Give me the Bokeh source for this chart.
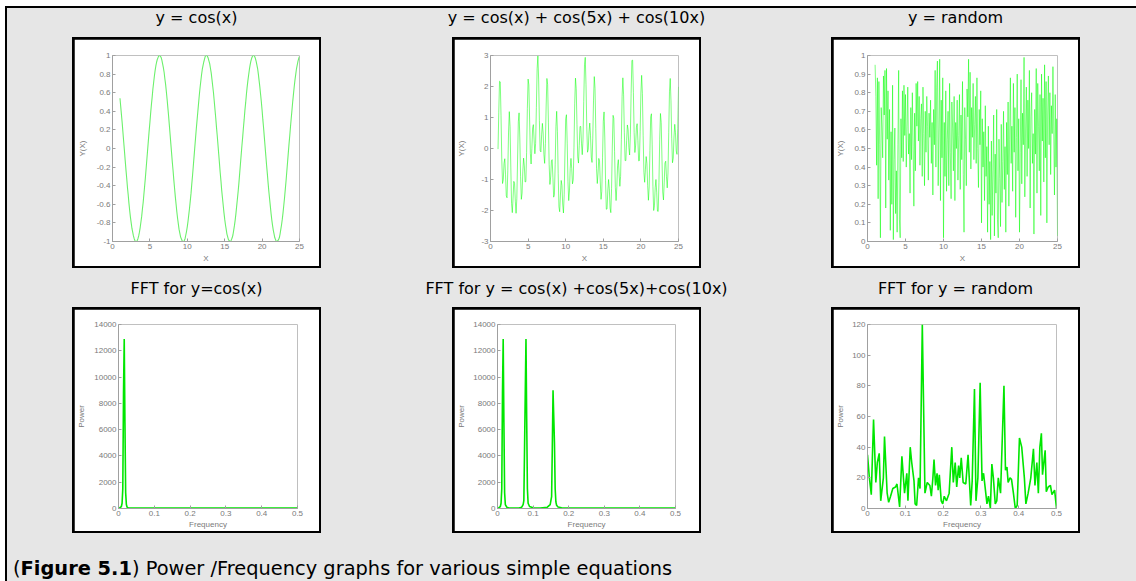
from bokeh.plotting import figure
from bokeh.models import Range1d, FixedTicker, Div, Spacer
from bokeh.layouts import row, column
from bokeh.embed import file_html
from bokeh.resources import INLINE

# ---------------- data ----------------
x_start = 1.0
x_step = 0.1

cos_y = [
    0.54, 0.45, 0.36, 0.27, 0.17, 0.07, -0.03, -0.13, -0.23, -0.32,
    -0.42, -0.50, -0.59, -0.67, -0.74, -0.80, -0.86, -0.90, -0.94, -0.97,
    -0.99, -1.00, -1.00, -0.99, -0.97, -0.94, -0.90, -0.85, -0.79, -0.73,
    -0.65, -0.58, -0.49, -0.40, -0.31, -0.21, -0.11, -0.01, 0.09, 0.19,
    0.28, 0.38, 0.47, 0.55, 0.64, 0.71, 0.78, 0.84, 0.89, 0.93,
    0.96, 0.98, 1.00, 1.00, 0.99, 0.98, 0.95, 0.91, 0.87, 0.82,
    0.75, 0.69, 0.61,
    0.53, 0.44, 0.35, 0.25, 0.15, 0.05, -0.05, -0.15, -0.24, -0.34,
    -0.43, -0.52, -0.60, -0.68, -0.75, -0.81, -0.87, -0.91, -0.95, -0.97,
    -0.99, -1.00, -1.00, -0.99, -0.97, -0.93, -0.89, -0.84, -0.78, -0.71,
    -0.64, -0.56, -0.48, -0.38, -0.29, -0.19, -0.09, 0.01, 0.11, 0.21,
    0.30, 0.39, 0.48, 0.57, 0.65, 0.72, 0.79, 0.85, 0.89, 0.93,
    0.96, 0.99, 1.00, 1.00, 0.99, 0.97, 0.94, 0.91, 0.86, 0.81,
    0.74, 0.67, 0.60,
    0.51, 0.42, 0.33, 0.23, 0.14, 0.04, -0.06, -0.16, -0.26, -0.35,
    -0.45, -0.53, -0.61, -0.69, -0.76, -0.82, -0.87, -0.92, -0.95, -0.98,
    -0.99, -1.00, -1.00, -0.98, -0.96, -0.93, -0.88, -0.83, -0.77, -0.70,
    -0.62, -0.54, -0.46, -0.37, -0.27, -0.17, -0.07, 0.03, 0.12, 0.22,
    0.31, 0.41, 0.49, 0.58, 0.66, 0.73, 0.79, 0.85, 0.90, 0.94,
    0.97, 0.99, 1.00, 1.00, 0.99, 0.97, 0.94, 0.90, 0.86, 0.80,
    0.73, 0.66, 0.58,
    0.50, 0.41, 0.31, 0.22, 0.12, 0.02, -0.08, -0.18, -0.27, -0.37,
    -0.46, -0.54, -0.62, -0.70, -0.77, -0.83, -0.88, -0.92, -0.96, -0.98,
    -1.00, -1.00, -0.99, -0.98, -0.96, -0.92, -0.87, -0.82, -0.76, -0.69,
    -0.61, -0.53, -0.44, -0.35, -0.25, -0.15, -0.05, 0.05, 0.14, 0.24,
    0.33, 0.42, 0.51, 0.59, 0.67, 0.74, 0.80, 0.86, 0.90, 0.94,
    0.97, 0.99,
]

combo_y = [
    -0.02, 1.17, 2.17, 2.15, 1.06, -0.34, -1.13, -1.01, -0.48, -0.33,
    -0.85, -1.53, -1.59, -0.72, 0.53, 1.19, 0.70, -0.60, -1.77, -2.07,
    -1.60, -1.06, -1.12, -1.70, -2.09, -1.62, -0.37, 0.86, 1.15, 0.34,
    -0.91, -1.64, -1.44, -0.73, -0.31, -0.56, -1.08, -1.07, -0.13, 1.29,
    2.24, 2.05, 0.95, -0.16, -0.50, 0.00, 0.66, 0.77, 0.28, -0.17,
    0.16, 1.32, 2.57, 2.99, 2.24, 0.90, -0.06, -0.11, 0.44, 0.81,
    0.50, -0.19, -0.48, 0.16, 1.37, 2.26, 2.06, 0.85, -0.51, -1.16,
    -0.92, -0.40, -0.36, -0.94, -1.57, -1.49, -0.51, 0.71, 1.20, 0.54,
    -0.81, -1.88, -2.04, -1.50, -1.03, -1.19, -1.79, -2.08, -1.49, -0.18,
    0.96, 1.09, 0.17, -1.07, -1.68, -1.37, -0.65, -0.32, -0.64, -1.14,
    -1.01, 0.04, 1.46, 2.27, 1.93, 0.77, -0.27, -0.47, 0.10, 0.71,
    0.71, 0.17, -0.20, 0.28, 1.52, 2.70, 2.94, 2.06, 0.72, -0.12,
    -0.03, 0.54, 0.82, 0.41, -0.28, -0.45, 0.33, 1.56, 2.32, 1.94,
    0.65, -0.65, -1.13, -0.79, -0.32, -0.41, -1.08, -1.64, -1.38, -0.28,
    0.88, 1.18, 0.34, -1.03, -1.96, -1.95, -1.37, -1.00, -1.30, -1.92,
    -2.07, -1.29, 0.08, 1.07, 0.97, -0.10, -1.26, -1.68, -1.23, -0.54,
    -0.36, -0.79, -1.22, -0.90, 0.29, 1.67, 2.28, 1.73, 0.51, -0.39,
    -0.39, 0.25, 0.76, 0.61, 0.03, -0.21, 0.44, 1.77, 2.84, 2.85,
    1.81, 0.52, -0.13, 0.11, 0.67, 0.80, 0.26, -0.40, -0.39, 0.55,
    1.79, 2.36, 1.77, 0.41, -0.77, -1.09, -0.67, -0.26, -0.49, -1.20,
    -1.67, -1.24, -0.06, 1.02, 1.12, 0.14, -1.22, -2.00, -1.85, -1.26,
    -1.00, -1.41, -2.02, -2.03, -1.10, 0.28, 1.13, 0.84, -0.31, -1.40,
    -1.66, -1.11, -0.47, -0.41, -0.91, -1.27, -0.79, 0.51, 1.83, 2.26,
    1.54, 0.32, -0.46, -0.31, 0.37, 0.78, 0.51, -0.08, -0.19, 0.64,
    1.99,
]

rand_y = [
    0.95, 0.78, 0.41, 0.88, 0.23, 0.86, 0.52, 0.02, 0.72, 0.61,
    0.45, 0.89, 0.68, 0.92, 0.18, 0.93, 0.55, 0.81, 0.33, 0.71,
    0.06, 0.59, 0.20, 0.84, 0.01, 0.44, 0.61, 0.15, 0.38, 0.05,
    0.52, 0.92, 0.12, 0.02, 0.66, 0.45, 0.81, 0.43, 0.84, 0.57,
    0.79, 0.40, 0.62, 0.83, 0.47, 0.58, 0.26, 0.72, 0.44, 0.80,
    0.51, 0.19, 0.69, 0.38, 0.85, 0.62, 0.86, 0.54, 0.78, 0.41,
    0.66, 0.74, 0.35, 0.83, 0.58, 0.30, 0.70, 0.48, 0.78, 0.62,
    0.33, 0.69, 0.56, 0.76, 0.42, 0.64, 0.25, 0.71, 0.52, 0.92,
    0.40, 0.83, 0.97, 0.30, 0.61, 0.98, 0.22, 0.76, 0.45, 0.88,
    0.02, 0.64, 0.35, 0.81, 0.27, 0.55, 0.70, 0.30, 0.85, 0.48,
    0.23, 0.75, 0.61, 0.38, 0.78, 0.22, 0.64, 0.50, 0.76, 0.33,
    0.57, 0.79, 0.28, 0.68, 0.44, 0.86, 0.36, 0.05, 0.72, 0.55,
    0.30, 0.82, 0.67, 0.98, 0.48, 0.91, 0.39, 0.72, 0.56, 0.85,
    0.44, 0.63, 0.78, 0.42, 0.88, 0.50, 0.29, 0.71, 0.52, 0.81,
    0.10, 0.66, 0.40, 0.59, 0.22, 0.73, 0.35, 0.51, 0.05, 0.62,
    0.20, 0.43, 0.01, 0.54, 0.14, 0.38, 0.68, 0.03, 0.47, 0.26,
    0.71, 0.12, 0.02, 0.55, 0.34, 0.08, 0.63, 0.21, 0.43, 0.70,
    0.28, 0.51, 0.05, 0.64, 0.36, 0.75, 0.19, 0.55, 0.88, 0.42,
    0.62, 0.27, 0.85, 0.48, 0.72, 0.13, 0.56, 0.90, 0.38, 0.66,
    0.05, 0.48, 0.87, 0.31, 0.69, 0.52, 0.99, 0.24, 0.61, 0.83,
    0.35, 0.76, 0.50, 0.92, 0.18, 0.67, 0.80, 0.42, 0.58, 0.04,
    0.71, 0.47, 0.93, 0.26, 0.85, 0.62, 0.38, 0.79, 0.14, 0.90,
    0.54, 0.77, 0.32, 0.95, 0.45, 0.86, 0.10, 0.68, 0.89, 0.52,
    0.80, 0.36, 0.73, 0.58, 0.94, 0.61, 0.25, 0.79, 0.40, 0.66,
    0.03,
]

fft_cos_freq = [0.000, 0.004, 0.008, 0.010, 0.012, 0.014, 0.016, 0.018,
                0.020, 0.022, 0.024, 0.028, 0.500]
fft_cos_power = [0, 60, 150, 400, 1500, 8800, 12900, 6500,
                 1200, 300, 100, 30, 30]

fft_combo_freq = [0.000, 0.004, 0.008, 0.010, 0.012, 0.014, 0.016, 0.018,
                  0.020, 0.022, 0.026, 0.032, 0.060, 0.068, 0.072, 0.074,
                  0.076, 0.078, 0.080, 0.082, 0.084, 0.086, 0.090, 0.100,
                  0.120, 0.140, 0.148, 0.152, 0.154, 0.156, 0.158, 0.160,
                  0.162, 0.164, 0.166, 0.170, 0.180, 0.200, 0.500]
fft_combo_power = [0, 60, 150, 400, 1500, 8800, 12900, 6500,
                   1200, 300, 100, 40, 40, 100, 300, 600,
                   4600, 8800, 12900, 6800, 1500, 400, 150, 50,
                   40, 100, 300, 900, 4700, 9000, 7000, 5000,
                   1500, 500, 250, 120, 60, 30, 30]

fft_rand_freq = [0.000, 0.005, 0.010, 0.016, 0.022, 0.026, 0.031, 0.035, 0.042, 0.045,
                 0.052, 0.056, 0.061, 0.067, 0.074, 0.078, 0.085, 0.091, 0.098, 0.104,
                 0.107, 0.113, 0.117, 0.123, 0.126, 0.130, 0.135, 0.139, 0.145, 0.152,
                 0.158, 0.165, 0.169, 0.173, 0.176, 0.180, 0.184, 0.187, 0.190, 0.195,
                 0.199, 0.203, 0.209, 0.216, 0.223, 0.227, 0.232, 0.236, 0.241, 0.244,
                 0.248, 0.253, 0.260, 0.266, 0.273, 0.277, 0.283, 0.287, 0.292, 0.298,
                 0.303, 0.307, 0.312, 0.316, 0.320, 0.325, 0.329, 0.333, 0.338, 0.342,
                 0.346, 0.352, 0.361, 0.365, 0.369, 0.372, 0.377, 0.381, 0.386, 0.391,
                 0.396, 0.402, 0.408, 0.415, 0.419, 0.425, 0.432, 0.439, 0.443, 0.448,
                 0.452, 0.456, 0.460, 0.463, 0.470, 0.473, 0.478, 0.484, 0.488, 0.495,
                 0.500]
fft_rand_power = [35, 20, 9, 58, 17, 30, 36, 5, 20, 47,
                  10, 4, 8, 13, 14, 16, 1, 34, 10, 23,
                  5, 40, 30, 18, 3, 2, 20, 13, 120, 10,
                  17, 15, 8, 20, 32, 15, 23, 12, 22, 5,
                  3, 8, 5, 10, 40, 17, 30, 14, 28, 20,
                  33, 17, 16, 35, 2, 18, 78, 5, 20, 82,
                  18, 23, 12, 3, 8, 0, 29, 20, 3, 5,
                  20, 10, 80, 25, 27, 17, 20, 19, 10, 0,
                  2, 46, 40, 20, 3, 10, 20, 39, 15, 30,
                  10, 40, 49, 22, 38, 11, 14, 15, 9, 12,
                  0]

x_ticks = [0, 5, 10, 15, 20, 25]
x_tick_labels = ["0", "5", "10", "15", "20", "25"]
y_ticks_cos = [-1, -0.8, -0.6, -0.4, -0.2, 0, 0.2, 0.4, 0.6, 0.8, 1]
y_tick_labels_cos = ["-1", "-0.8", "-0.6", "-0.4", "-0.2", "0", "0.2", "0.4", "0.6", "0.8", "1"]
y_ticks_combo = [-3, -2, -1, 0, 1, 2, 3]
y_tick_labels_combo = ["-3", "-2", "-1", "0", "1", "2", "3"]
y_ticks_rand = [0, 0.1, 0.2, 0.3, 0.4, 0.5, 0.6, 0.7, 0.8, 0.9, 1]
y_tick_labels_rand = ["0", "0.1", "0.2", "0.3", "0.4", "0.5", "0.6", "0.7", "0.8", "0.9", "1"]
f_ticks = [0, 0.1, 0.2, 0.3, 0.4, 0.5]
f_tick_labels = ["0", "0.1", "0.2", "0.3", "0.4", "0.5"]
p_ticks_big = [0, 2000, 4000, 6000, 8000, 10000, 12000, 14000]
p_tick_labels_big = ["0", "2000", "4000", "6000", "8000", "10000", "12000", "14000"]
p_ticks_rand = [0, 20, 40, 60, 80, 100, 120]
p_tick_labels_rand = ["0", "20", "40", "60", "80", "100", "120"]

titles_top = ["y = cos(x)", "y = cos(x) + cos(5x) + cos(10x)", "y = random"]
titles_bottom = ["FFT for y=cos(x)", "FFT for y = cos(x) +cos(5x)+cos(10x)", "FFT for y = random"]

x_vals = [round(x_start + i * x_step, 1) for i in range(len(cos_y))]

# ---------------- style ----------------
AX = "#a0a0a0"
TXT = "#7a7a7a"
FONT = "Liberation Sans"
HIDE = {"overflow": "hidden"}


def make_fig(w, h, xr, yr, xt, xtl, yt, ytl, xlab, ylab, bl, br, bt, bb, ystand, xstand):
    p = figure(width=w, height=h, x_range=Range1d(*xr), y_range=Range1d(*yr),
               output_backend="svg", toolbar_location=None,
               min_border_left=bl, min_border_right=br, min_border_top=bt,
               min_border_bottom=bb, margin=(2, 2, 2, 2))
    p.background_fill_color = "white"
    p.border_fill_color = "white"
    p.outline_line_color = None
    p.grid.visible = False
    for ax in (p.xaxis[0], p.yaxis[0]):
        ax.axis_line_color = AX
        ax.axis_line_width = 1
        ax.major_tick_line_color = AX
        ax.major_tick_in = 3
        ax.major_tick_out = 0
        ax.minor_tick_line_color = None
        ax.major_label_text_font = FONT
        ax.major_label_text_font_size = "8px"
        ax.major_label_text_color = TXT
        ax.axis_label_text_font = FONT
        ax.axis_label_text_font_size = "8px"
        ax.axis_label_text_font_style = "normal"
        ax.axis_label_text_color = TXT
        ax.major_label_standoff = 2
    p.xaxis.ticker = FixedTicker(ticks=xt)
    p.xaxis.major_label_overrides = dict(zip(xt, xtl))
    p.yaxis.ticker = FixedTicker(ticks=yt)
    p.yaxis.major_label_overrides = dict(zip(yt, ytl))
    p.xaxis.axis_label = xlab
    p.yaxis.axis_label = ylab
    p.yaxis.axis_label_standoff = ystand
    p.xaxis.axis_label_standoff = xstand
    return p


TW, TH = 245, 227
BW, BH = 245, 222

p1 = make_fig(TW, TH, (0, 25), (-1, 1), x_ticks, x_tick_labels, y_ticks_cos, y_tick_labels_cos,
              "X", "Y(X)", 33, 20, 16, 25, 7, 2)
p1.line(x_vals, cos_y, line_color="#6cf06c", line_width=1.1)

p2 = make_fig(TW, TH, (0, 25), (-3, 3), x_ticks, x_tick_labels, y_ticks_combo, y_tick_labels_combo,
              "X", "Y(X)", 32, 21, 16, 25, 12, 2)
p2.line(x_vals, combo_y, line_color="#00ff00", line_width=1, line_alpha=0.5)

p3 = make_fig(TW, TH, (0, 25), (0, 1), x_ticks, x_tick_labels, y_ticks_rand, y_tick_labels_rand,
              "X", "Y(X)", 30, 21, 16, 25, 6, 2)
p3.line(x_vals, rand_y, line_color="#00ff00", line_width=1, line_alpha=0.5)

p4 = make_fig(BW, BH, (0, 0.5), (0, 14000), f_ticks, f_tick_labels, p_ticks_big, p_tick_labels_big,
              "Frequency", "Power", 38, 22, 15, 22, 5, 1)
p4.line(fft_cos_freq, fft_cos_power, line_color="#00e600", line_width=1.6)

p5 = make_fig(BW, BH, (0, 0.5), (0, 14000), f_ticks, f_tick_labels, p_ticks_big, p_tick_labels_big,
              "Frequency", "Power", 37, 24, 15, 22, 4, 1)
p5.line(fft_combo_freq, fft_combo_power, line_color="#00e600", line_width=1.6)

p6 = make_fig(BW, BH, (0, 0.5), (0, 120), f_ticks, f_tick_labels, p_ticks_rand, p_tick_labels_rand,
              "Frequency", "Power", 30, 22, 15, 22, 4, 1)
p6.line(fft_rand_freq, fft_rand_power, line_color="#00e600", line_width=1.6)


def box(fig):
    return column(fig, styles={"background-color": "black", "overflow": "hidden"}, margin=0)


GW, GH = 1129, 573
CENTERS = [189.5, 569.5, 948.5]
SPAN = ("position:absolute;top:{top}px;left:{left}px;transform:translateX(-50%);"
        "white-space:nowrap;font-family:'DejaVu Sans';font-size:16px;line-height:18px;color:#000;")


def title_div(texts, h, top):
    spans = "".join('<span style="%s">%s</span>' % (SPAN.format(top=top, left=c), t)
                    for c, t in zip(CENTERS, texts))
    html = ('<div style="position:relative;width:%dpx;height:%dpx;overflow:hidden;">%s</div>'
            % (GW, h, spans))
    return Div(text=html, width=GW, height=h, margin=0, styles=HIDE)


t1 = title_div(titles_top, 29, 1)
t2 = title_div(titles_bottom, 39, 12)

r1 = row(Spacer(width=65, height=231, margin=0), box(p1), Spacer(width=131, height=231, margin=0),
         box(p2), Spacer(width=130, height=231, margin=0), box(p3), margin=0, styles=HIDE)
r2 = row(Spacer(width=65, height=226, margin=0), box(p4), Spacer(width=131, height=226, margin=0),
         box(p5), Spacer(width=130, height=226, margin=0), box(p6), margin=0, styles=HIDE)

cap_html = ('<div style="position:relative;width:%dpx;height:48px;overflow:hidden;">'
            '<span style="position:absolute;left:6px;top:25px;white-space:nowrap;'
            "font-family:'DejaVu Sans';font-size:19.4px;line-height:22px;color:#000;\">"
            '(<b>Figure 5.1</b>) Power /Frequency graphs for various simple equations</span></div>') % GW
cap = Div(text=cap_html, width=GW, height=48, margin=0, styles=HIDE)

gray = column(t1, r1, t2, r2, cap, width=GW, height=GH, margin=0,
              styles={"background-color": "#e6e6e6", "overflow": "hidden"})
top_bar = Spacer(width=GW, height=2, margin=0, styles={"background-color": "black"})
left_bar = Spacer(width=2, height=GH + 2, margin=0, styles={"background-color": "black"})
inner = column(top_bar, gray, margin=0, width=GW, height=GH + 2, styles=HIDE)
root = row(left_bar, inner, margin=(6, 0, 0, 5), width=GW + 2, height=GH + 2, styles=HIDE)

open("out.html", "w").write(file_html(root, INLINE))
